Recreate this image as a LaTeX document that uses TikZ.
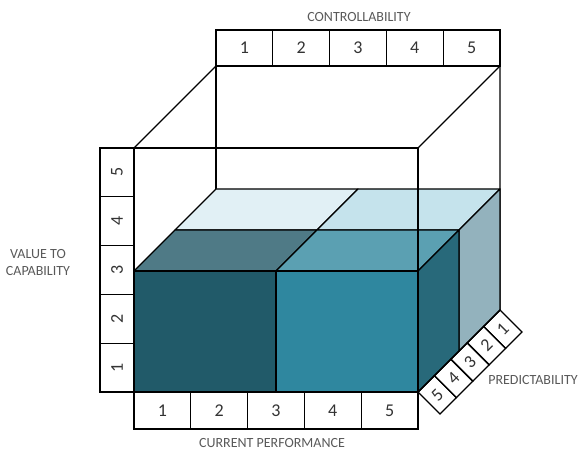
\documentclass[tikz,border=0pt]{standalone}
\usepackage{fontspec}
\setmainfont{Carlito}
\usetikzlibrary{positioning,calc}

% block colours
\definecolor{frontleft}{HTML}{215A69}
\definecolor{frontright}{HTML}{2F879F}
\definecolor{topleft}{HTML}{4F7A86}
\definecolor{topright}{HTML}{5BA0B2}
\definecolor{sidenear}{HTML}{28697A}
\definecolor{backtopleft}{HTML}{E1F0F5}
\definecolor{backtopright}{HTML}{C5E3EC}
\definecolor{sidefar}{HTML}{93B2BD}

\begin{document}
\begin{tikzpicture}[
            x=1pt,y=1pt,
            frame/.style={line width=1.2pt,line join=round},
            face/.style={draw,line width=1.2pt,line join=round},
            scalecell/.style={draw,line width=1.3pt,inner sep=0pt,
                text=black!80,font=\fontsize{18}{18}\selectfont},
            axislabel/.style={text=black!65,align=center,
                font=\fontsize{14}{17}\selectfont}
        ]
            \useasboundingbox (-134,-58) rectangle (444,392);

            % corners of the open frame
            \coordinate (fbl) at (0,0);
            \coordinate (fbr) at (284,0);
            \coordinate (ftr) at (284,244);
            \coordinate (ftl) at (0,244);
            \coordinate (bbl) at (82,82);
            \coordinate (bbr) at (366,82);
            \coordinate (btr) at (366,326);
            \coordinate (btl) at (82,326);

            % back edges of the frame
            \draw[frame] (ftl) -- (btl) -- (btr) -- (ftr);
            \draw[frame] (btl) -- (bbl);
            \draw[frame] (btr) -- (bbr) -- (fbr);

            % rear layer of the block
            \draw[face,fill=backtopleft] (41,162) -- (183,162) -- (224,203) -- (82,203) -- cycle;
            \draw[face,fill=backtopright] (183,162) -- (325,162) -- (366,203) -- (224,203) -- cycle;
            \draw[face,fill=sidefar] (325,41) -- (bbr) -- (366,203) -- (325,162) -- cycle;

            % front layer of the block
            \draw[face,fill=topleft] (0,121) -- (142,121) -- (183,162) -- (41,162) -- cycle;
            \draw[face,fill=topright] (142,121) -- (284,121) -- (325,162) -- (183,162) -- cycle;
            \draw[face,fill=sidenear] (fbr) -- (325,41) -- (325,162) -- (284,121) -- cycle;
            \draw[face,fill=frontleft] (fbl) rectangle (142,121);
            \draw[face,fill=frontright] (142,0) rectangle (284,121);

            % front face of the frame
            \draw[frame] (fbl) rectangle (ftr);

            % scales
            \foreach \i in {1,...,5} {
                \node[scalecell,minimum width=56.8pt,minimum height=37pt]
                    (perf\i) at ({(\i-0.5)*56.8},-18.5) {\i};
                \node[scalecell,minimum width=56.8pt,minimum height=36pt]
                    (ctrl\i) at ({82+(\i-0.5)*56.8},344) {\i};
                \node[scalecell,minimum width=48.8pt,minimum height=34pt,rotate=90]
                    (val\i) at (-17,{(\i-0.5)*48.8}) {\i};
            }
            \foreach \i [evaluate=\i as \n using int(6-\i)] in {1,...,5} {
                \node[scalecell,minimum width=23.2pt,minimum height=31pt,rotate=45]
                    (pred\n) at ({295+(\i-0.5)*16.4},{(\i-0.5)*16.4-11}) {\n};
            }

            % axis names
            \node[axislabel] (ctrllabel) at (225,375) {CONTROLLABILITY};
            \node[axislabel] (perflabel) at (138,-51) {CURRENT PERFORMANCE};
            \node[axislabel] (vallabel) at (-96,129) {VALUE TO\\CAPABILITY};
            \node[axislabel] (predlabel) at (399,12) {PREDICTABILITY};
        \end{tikzpicture}
\end{document}
